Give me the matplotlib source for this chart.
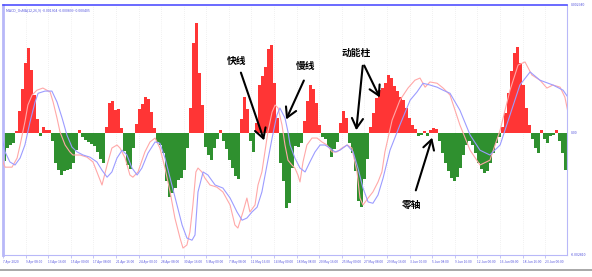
import matplotlib
matplotlib.use('Agg')
import matplotlib.pyplot as plt
from matplotlib.lines import Line2D
import numpy as np

plt.rcParams['font.family'] = ['Noto Sans CJK SC', 'DejaVu Sans']

# OsMA histogram, units of 1e-5
osma = [-64, -35, -28, -23, 5, 51, 101, 161, 196, 145, 87, 32, -7, 14, 7, 7,
        -18, -69, -85, -97, -87, -85, -83, -69, -39, 7, -9, -16, -21, -25, -30, -44, -60, -69,
        14, 69, 74, 53, 55, 12, -41, -74, -83, -35, 21, 55, 67, 83, 78, 48, 12,
        -21, -28, -46, -110, -147, -138, -127, -108, -104, -85, -35,
        58, 207, 253, 138, 64, -32, -51, -62, -35, -14, 7, -18, -37, -62, -81, -99, -106,
        32, 83, 55, -18, -44, 23, 110, 131, 152, 193, 202, 115, 35,
        -69, -110, -173, -161, -81, -30, -32, -23,
        28, 74, 110, 101, 69, 18,
        -9, -14, -32, -55, -37, -21,
        23, 51, 35,
        -23, -46, -87, -156, -170, -106, -60,
        14, 46, 81, 99, 104, 115, 133, 127, 108, 97, 83, 76, 58, 35, 18, 9,
        -7, -5, 5, -7, 7, 12, 9,
        -18, -46, -69, -87, -104, -110, -101, -81, -51, -28, -18, -28, -46, -69, -83, -92, -87, -69, -46, -23, -9,
        14, 46, 92, 143, 184, 198, 161, 110, 58, 18,
        -14, -35, -46, 7, -14, -23, -7, -5, 7, -18, -46, -85]

# MACD (fast) line: bar index, value (1e-5)
fast_idx = [-0.8, -0.5, 0.2, 2.5, 4.2, 5.2, 6.8, 7.8, 9.2, 10.8, 12.8, 15.2, 16.2, 17.5, 18.5, 20.2, 21.8,
            22.8, 25.2, 27.5, 29.5, 31.2, 32.5, 34.2, 35.8, 37.5, 38.5, 40.2, 41.8, 42.8, 44.5, 46.8, 48.5,
            50.2, 51.8, 53.5, 55.2, 56.8, 58.5, 59.5, 60.8, 61.8, 62.8, 63.8, 64.5, 65.8, 66.8, 68.5, 70.8,
            72.8, 75.2, 76.8, 77.8, 79.5, 80.8, 81.8, 83.5, 84.5, 85.8, 86.8, 87.8, 89.2, 90.2, 91.2, 92.5,
            93.5, 94.5, 95.8, 96.8, 97.8, 98.5, 99.5, 100.8, 102.5, 104.2, 105.8, 107.5, 109.2, 110.8, 112.5,
            114.2, 115.8, 117.5, 118.5, 119.5, 121.2, 122.8, 124.5, 125.8, 126.8, 129.2, 131.8, 134.5, 136.8,
            138.5, 140.2, 141.8, 144.2, 146.2, 148.5, 151.8, 155.2, 158.5, 161.8, 165.2, 168.5, 171.2, 173.5,
            175.8, 178.5, 180.8, 182.8, 185.2, 186.8, 187.8]
fast_val = [-44, -67, -79, -79, -58, -28, 25, 64, 87, 98, 103, 94, 71, 34, 2, -28, -44,
            -51, -51, -56, -67, -97, -120, -74, -35, -28, -35, -58, -97, -102, -90, -44, -21,
            -12, -35, -81, -136, -196, -242, -265, -258, -228, -166, -90, -81, -90, -104, -120, -125,
            -136, -166, -212, -219, -182, -150, -182, -166, -120, -90, -44, 2, 48, 64, 57, 18,
            -28, -63, -74, -81, -97, -113, -67, -28, -12, -12, -21, -28, -44, -44, -35,
            -28, -35, -90, -150, -166, -150, -136, -113, -90, -44, 29, 75, 103, 121,
            126, 105, 117, 114, 103, 87, 18, -40, -74, -63, 6, 98, 156, 163,
            133, 121, 103, 110, 105, 82, 48]

# signal line: bar index, value (1e-5)
sig_idx = [-0.8, 0.2, 1.8, 3.5, 5.2, 6.8, 8.5, 10.2, 11.2, 13.5, 15.8, 17.5, 19.2, 20.8, 22.5, 24.2,
           26.2, 28.5, 30.8, 32.5, 34.2, 35.8, 37.5, 39.2, 40.8, 42.5, 44.2, 45.8, 47.8, 50.2, 51.8,
           53.5, 55.2, 57.5, 59.2, 60.8, 62.5, 63.5, 64.5, 66.2, 67.8, 70.2, 72.8, 75.2, 77.5, 79.2,
           80.8, 82.5, 84.2, 85.8, 87.5, 89.2, 90.8, 91.8, 93.5, 94.5, 95.2, 96.8, 98.5, 100.2, 101.8,
           103.5, 105.2, 106.8, 108.5, 110.2, 111.8, 114.2, 116.2, 117.8, 119.5, 121.2, 122.8, 124.5,
           126.2, 128.5, 131.8, 135.2, 137.5, 139.5, 141.8, 144.2, 146.2, 148.5, 151.8, 155.2, 158.5,
           161.8, 165.2, 168.5, 171.8, 175.2, 178.5, 182.8, 186.2, 187.8]
sig_val = [-12, -44, -67, -74, -58, -28, 25, 71, 91, 96, 96, 71, 34, -5, -33, -44,
           -51, -56, -67, -86, -102, -90, -58, -40, -51, -81, -97, -81, -47, -21, -24,
           -58, -104, -166, -212, -242, -247, -235, -136, -90, -97, -120, -127, -150, -182, -201,
           -196, -182, -171, -136, -74, -12, 41, 57, 34, 2, -28, -58, -81, -90, -67,
           -44, -28, -28, -35, -44, -40, -28, -44, -81, -127, -159, -162, -143,
           -104, -40, 18, 75, 94, 114, 110, 105, 98, 91, 52, -5, -40,
           -51, -28, 41, 110, 140, 121, 110, 98, 82]

date_labels = ['7 Apr 2020', '9 Apr 08:00', '13 Apr 16:00', '15 Apr 00:00', '17 Apr 08:00',
               '21 Apr 16:00', '24 Apr 00:00', '28 Apr 08:00', '30 Apr 16:00', '5 May 00:00',
               '7 May 08:00', '11 May 16:00', '14 May 00:00', '18 May 08:00', '20 May 16:00',
               '25 May 00:00', '27 May 08:00', '29 May 16:00', '3 Jun 00:00', '5 Jun 08:00',
               '9 Jun 16:00', '12 Jun 00:00', '16 Jun 08:00', '18 Jun 16:00', '23 Jun 00:00']

W, H = 592, 277
fig = plt.figure(figsize=(W / 100, H / 100), dpi=100)
ax = fig.add_axes([3 / W, 22 / H, 564 / W, 250 / H])

scale = 1e-5
osma = np.array(osma) * scale
x = np.arange(len(osma))
cols = ['#ff3535' if v >= 0 else '#2f902f' for v in osma]
ax.bar(x, osma, width=1.02, color=cols, linewidth=0, zorder=2)

ax.plot(fast_idx, np.array(fast_val) * scale, color='#ffa8a8', lw=0.8, zorder=3)
ax.plot(sig_idx, np.array(sig_val) * scale, color='#9c9cff', lw=0.8, zorder=3)

ymax, ymin = 0.00294, -0.00281
ax.set_xlim(-0.5, len(osma) - 0.5)
ax.set_ylim(ymin, ymax)

# grid and ticks
step = 7.53
ticks = np.arange(len(date_labels)) * step - 0.5
for t in ticks:
    ax.axvline(t, color='#e4e4e4', lw=0.5, ls=(0, (1, 2)), zorder=0)
ax.set_xticks(ticks)
ax.set_xticklabels(date_labels, fontsize=2.3, color='#5555dd', ha='left')
ax.tick_params(axis='x', length=2, width=0.4, color='#9999ee', pad=1.5)
ax.set_yticks([])

for s in ['left', 'right', 'bottom']:
    ax.spines[s].set_color('#b8b8f8')
    ax.spines[s].set_linewidth(0.8)
ax.spines['top'].set_color('#5050ff')
ax.spines['top'].set_linewidth(1.2)
ax.spines['left'].set_linewidth(2)

for val, lab in [(ymax, '0.002940'), (0.0, '0.00'), (ymin, '-0.002810')]:
    ax.text(1.006, (val - ymin) / (ymax - ymin), lab, transform=ax.transAxes,
            fontsize=2.5, color='#5555dd', va='center', ha='left')

ax.text(0.006, 0.985, 'MACD_OsMA(12,26,9) -0.001304 -0.000899 -0.000405',
        transform=ax.transAxes, fontsize=2.5, color='#5555dd', va='top', ha='left')

fig.add_artist(Line2D([0, 1], [7 / H, 7 / H], color='#999999', lw=1.2))

# annotations (figure pixels, y measured from bottom)
akw = dict(arrowstyle='->,head_length=0.7,head_width=0.4', color='black', lw=1.5)
tkw = dict(fontsize=7, fontweight='bold', ha='center', va='center')
ax.annotate('', xy=(265, H - 143), xytext=(240, H - 70), xycoords='figure pixels',
            textcoords='figure pixels', arrowprops=akw, zorder=5)
fig.text(237 / W, 1 - 61 / H, '快线', **tkw)
ax.annotate('', xy=(285, H - 122), xytext=(305, H - 78), xycoords='figure pixels',
            textcoords='figure pixels', arrowprops=akw, zorder=5)
fig.text(306 / W, 1 - 66 / H, '慢线', **tkw)
ax.annotate('', xy=(356, H - 133), xytext=(363, H - 63), xycoords='figure pixels',
            textcoords='figure pixels', arrowprops=akw, zorder=5)
ax.annotate('', xy=(381, H - 100), xytext=(363, H - 63), xycoords='figure pixels',
            textcoords='figure pixels', arrowprops=akw, zorder=5)
fig.text(356 / W, 1 - 53 / H, '动能柱', **tkw)
ax.annotate('', xy=(433, H - 135), xytext=(415, H - 193), xycoords='figure pixels',
            textcoords='figure pixels', arrowprops=akw, zorder=5)
fig.text(412 / W, 1 - 205 / H, '零轴', **tkw)

fig.savefig('out.png', dpi=100)
